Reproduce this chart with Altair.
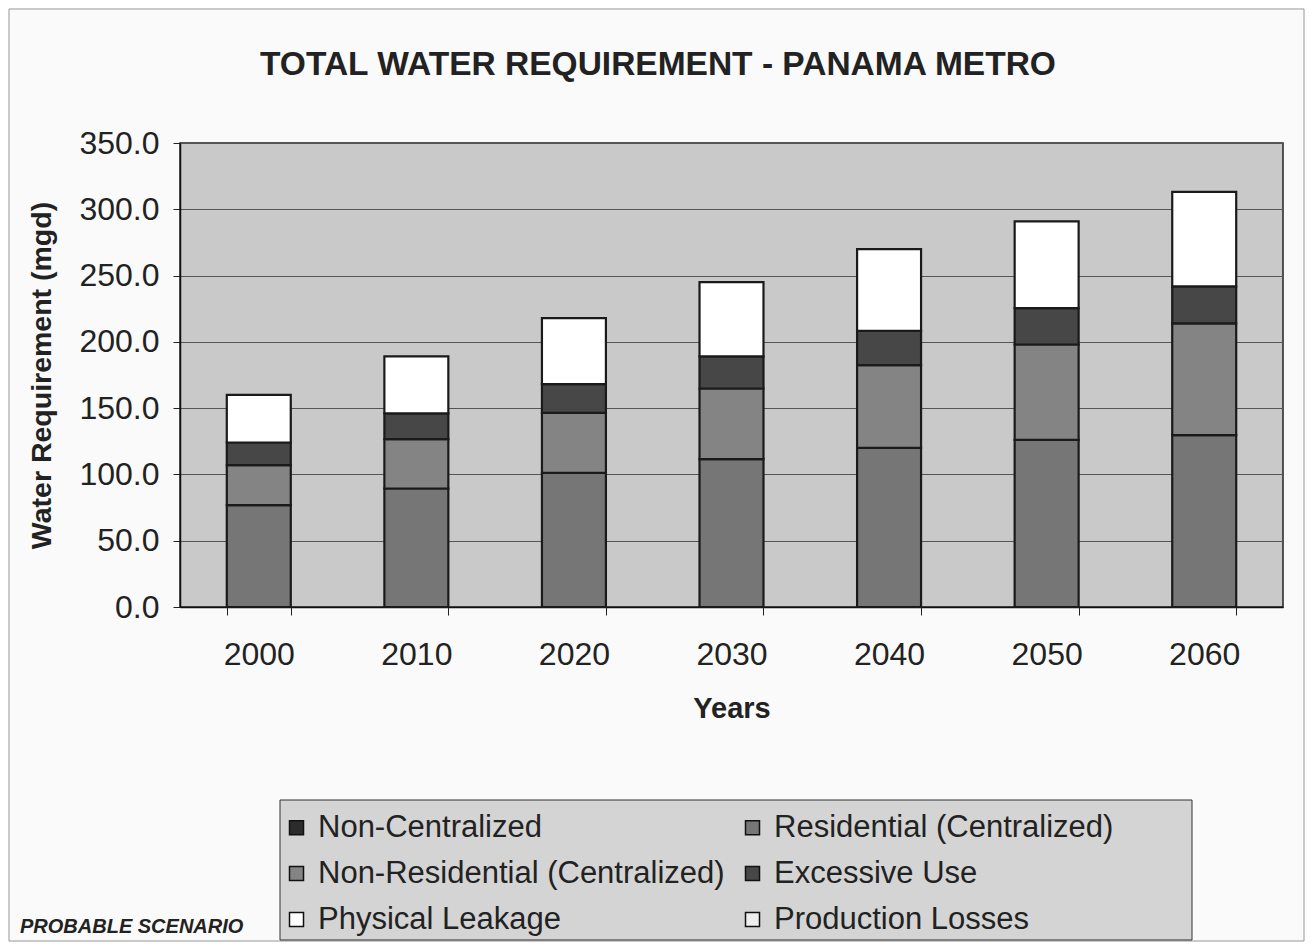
import altair as alt
import pandas as pd

years = ["2000", "2010", "2020", "2030", "2040", "2050", "2060"]
series = [
    "Non-Centralized",
    "Residential (Centralized)",
    "Non-Residential (Centralized)",
    "Excessive Use",
    "Physical Leakage",
    "Production Losses",
]
# legend is laid out column by column: this order gives the reference's rows
legend_order = [
    "Non-Centralized",
    "Non-Residential (Centralized)",
    "Physical Leakage",
    "Residential (Centralized)",
    "Excessive Use",
    "Production Losses",
]
non_centralized = [0.0, 0.0, 0.0, 0.0, 0.0, 0.0, 0.0]
residential = [76.8, 89.4, 101.1, 111.5, 120.0, 126.0, 129.6]
non_residential = [30.2, 37.2, 45.3, 53.3, 62.4, 72.0, 84.3]
excessive_use = [17.1, 19.4, 21.7, 24.2, 25.9, 27.4, 27.9]
physical_leakage = [35.9, 43.0, 49.8, 56.0, 61.7, 65.5, 71.4]
production_losses = [0.0, 0.0, 0.0, 0.0, 0.0, 0.0, 0.0]
colors = ["#2c2c2c", "#767676", "#848484", "#474747", "#ffffff", "#eeeeee"]

all_values = [non_centralized, residential, non_residential,
              excessive_use, physical_leakage, production_losses]
rows = []
for si, (name, vals) in enumerate(zip(series, all_values)):
    for y, v in zip(years, vals):
        rows.append({"year": y, "series": name, "value": v, "idx": si})
df = pd.DataFrame(rows)

FONT = "Liberation Sans"
one = pd.DataFrame({"k": [1]})

frame = alt.Chart(one).mark_rect(fillOpacity=0, stroke="#999", strokeWidth=1).encode(
    x=alt.value(-171), x2=alt.value(1124), y=alt.value(-134), y2=alt.value(798))

legend_box = alt.Chart(one).mark_rect(fill="#d4d4d4", stroke="#333", strokeWidth=1).encode(
    x=alt.value(100), x2=alt.value(1012), y=alt.value(657), y2=alt.value(797))

bars = alt.Chart(df).transform_filter("datum.value > 0").mark_bar(
    stroke="#1a1a1a", strokeWidth=2.2
).encode(
    x=alt.X("year:N", sort=years,
            scale=alt.Scale(paddingInner=0.594, paddingOuter=0.297),
            axis=alt.Axis(title="Years", labelAngle=0, labelFontSize=32,
                          labelFont=FONT, labelColor="#222", tickBand="extent",
                          tickSize=8, tickColor="#222", labelPadding=24,
                          domainColor="#111", domainWidth=1.5,
                          titleFont=FONT, titleFontSize=29, titleFontWeight="bold",
                          titleColor="#222", titlePadding=24, grid=False)),
    y=alt.Y("value:Q", stack="zero",
            scale=alt.Scale(domain=[0, 350], nice=False),
            axis=alt.Axis(title="Water Requirement (mgd)",
                          values=[0, 50, 100, 150, 200, 250, 300, 350],
                          format=".1f", labelFontSize=32, labelFont=FONT,
                          labelColor="#222", tickSize=7, tickColor="#222",
                          labelPadding=14, domainColor="#111", domainWidth=1.5,
                          grid=True, gridColor="#555", gridWidth=1,
                          titleFont=FONT, titleFontSize=28.5, titleFontWeight="bold",
                          titleColor="#222", titlePadding=22)),
    color=alt.Color("series:N", scale=alt.Scale(domain=series, range=colors),
                    legend=alt.Legend(title=None, orient="none", legendX=93,
                                      legendY=661, columns=2,
                                      values=legend_order,
                                      columnPadding=12, rowPadding=14,
                                      symbolType="square", symbolSize=196,
                                      symbolStrokeColor="#111", symbolStrokeWidth=1.5,
                                      labelFont=FONT, labelFontSize=31,
                                      labelColor="#222", labelLimit=600,
                                      labelOffset=6, padding=8)),
    order=alt.Order("idx:Q"),
)

title = alt.Chart(pd.DataFrame({"t": ["TOTAL WATER REQUIREMENT - PANAMA METRO"]})).mark_text(
    font=FONT, fontSize=33.5, fontWeight="bold", align="left",
    baseline="alphabetic", color="#222"
).encode(text="t:N", x=alt.value(80), y=alt.value(-68))

note = alt.Chart(pd.DataFrame({"t": ["PROBABLE SCENARIO"]})).mark_text(
    font=FONT, fontSize=20, fontWeight="bold", fontStyle="italic",
    align="left", baseline="middle", color="#222"
).encode(text="t:N", x=alt.value(-160), y=alt.value(784))

chart = alt.layer(frame, legend_box, bars, title, note).properties(
    width=1103, height=464,
    autosize="none",
    padding={"left": 172, "top": 135, "right": 22, "bottom": 335},
    background="#fafafa",
).configure_view(fill="#c9c9c9", stroke="#222", strokeWidth=1.5)

chart.save("out.html", embed_options={"renderer": "svg", "actions": False})
